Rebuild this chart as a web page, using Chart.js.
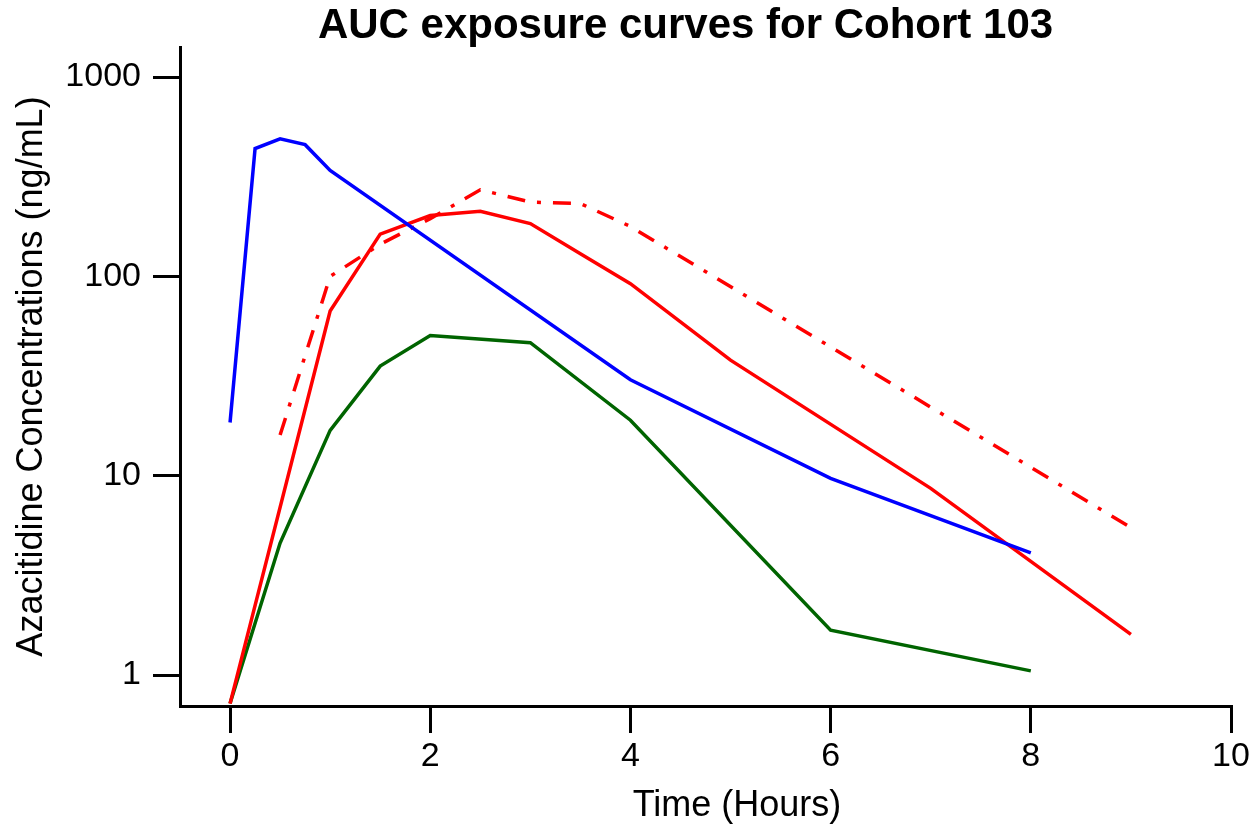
<!DOCTYPE html>
<html>
<head>
<meta charset="utf-8">
<title>AUC exposure curves for Cohort 103</title>
<script src="https://cdn.jsdelivr.net/npm/chart.js@4"></script>
<style>
  html, body { margin: 0; padding: 0; background: #fff; }
  #wrap { width: 1255px; height: 827px; }
</style>
</head>
<body>
<div id="wrap"><canvas id="aucChart" width="1255" height="827"></canvas></div>
<script>
// Data
const blueTimes = [0, 0.25, 0.5, 0.75, 1, 4, 6, 8];
const blueConc = [18.5, 438, 490, 458, 340, 30.3, 9.7, 4.1];

const redTimes = [0, 1, 1.5, 2, 2.5, 3, 3.5, 4, 5, 7, 9];
const redConc = [0.72, 67, 163, 202, 212, 184, 130, 92, 38, 8.65, 1.6];

const redDashTimes = [0.5, 1, 1.5, 2, 2.5, 3, 3.5, 4, 9];
const redDashConc = [16, 100, 145, 195, 272, 236, 232, 178, 5.5];

const greenTimes = [0, 0.5, 1, 1.5, 2, 3, 4, 6, 8];
const greenConc = [0.72, 4.6, 16.9, 35.5, 50.5, 46.5, 19, 1.68, 1.05];

const xTickValues = [0, 2, 4, 6, 8, 10];
const yTickValues = [1, 10, 100, 1000];

const FONT = "Arial, 'Liberation Sans', sans-serif";
const X_TITLE = 'Time (Hours)';

// x/y points
function toPoints(xs, ys) {
    return xs.map((x, i) => ({ x: x, y: ys[i] }));
}

function lineSet(label, xs, ys, color, dash) {
    return {
        label: label,
        data: toPoints(xs, ys),
        borderColor: color,
        backgroundColor: color,
        borderWidth: 3.5,
        borderDash: dash || [],
        pointRadius: 0,
        tension: 0,
        fill: false
    };
}

// title sits a bit right of the canvas middle in the original
const titleShift = {
    id: 'titleShift',
    afterLayout(chart) {
        chart.titleBlock.left = 140;
    },
    afterDraw(chart) {
        const c = chart.ctx;
        c.save();
        c.fillStyle = '#000';
        c.font = '36px ' + FONT;
        c.textAlign = 'center';
        c.textBaseline = 'middle';
        c.fillText(X_TITLE, 737, 806);
        c.restore();
    }
};

const ctx = document.getElementById('aucChart').getContext('2d');

const axisGrid = {
    display: true,
    drawOnChartArea: false,
    drawTicks: true,
    tickLength: 27,
    color: '#000',
    lineWidth: 3
};

new Chart(ctx, {
    type: 'line',
    data: {
        datasets: [
            lineSet('Blue', blueTimes, blueConc, '#0000ff'),
            lineSet('Red', redTimes, redConc, '#ff0000'),
            lineSet('Red dash-dot', redDashTimes, redDashConc, '#ff0000', [18, 12, 4, 12]),
            lineSet('Green', greenTimes, greenConc, '#006400')
        ]
    },
    plugins: [titleShift],
    options: {
        responsive: false,
        animation: false,
        layout: { padding: { left: 0, right: 24, top: 0, bottom: 0 } },
        plugins: {
            legend: { display: false },
            tooltip: { enabled: false },
            title: {
                display: true,
                text: 'AUC exposure curves for Cohort 103',
                color: '#000',
                font: { family: FONT, size: 42, weight: 'bold', lineHeight: 1 },
                padding: { top: 5, bottom: 0 }
            }
        },
        scales: {
            x: {
                type: 'linear',
                min: -0.5,
                max: 10,
                afterBuildTicks: (scale) => { scale.ticks = xTickValues.map(v => ({ value: v })); },
                afterFit: (scale) => { scale.height = 121; },
                border: { display: true, color: '#000', width: 3 },
                grid: axisGrid,
                ticks: {
                    color: '#000',
                    padding: 3,
                    maxRotation: 0,
                    font: { family: FONT, size: 34 }
                },
                title: { display: false, text: X_TITLE }
            },
            y: {
                type: 'logarithmic',
                min: 0.7,
                max: 1415,
                afterBuildTicks: (scale) => { scale.ticks = yTickValues.map(v => ({ value: v })); },
                afterFit: (scale) => { scale.width = 180; },
                border: { display: true, color: '#000', width: 3 },
                grid: axisGrid,
                ticks: {
                    color: '#000',
                    padding: 12,
                    font: { family: FONT, size: 34 },
                    callback: (v) => String(v)
                },
                title: {
                    display: true,
                    text: 'Azacitidine Concentrations (ng/mL)',
                    color: '#000',
                    font: { family: FONT, size: 36 },
                    padding: { top: 10, bottom: 0 }
                }
            }
        }
    }
});
</script>
</body>
</html>
